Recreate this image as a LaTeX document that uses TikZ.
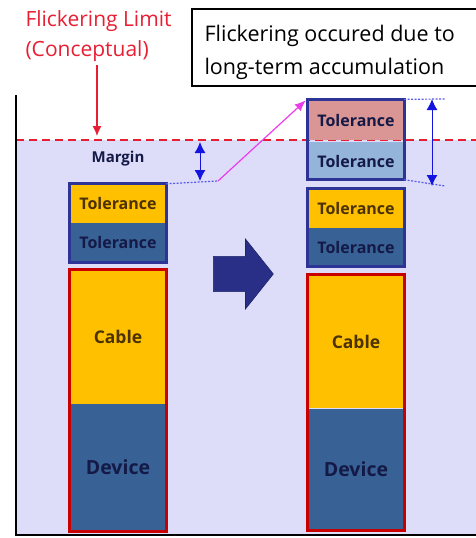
\documentclass[tikz,border=0pt]{standalone}
\usepackage{fontspec}
\setmainfont{Open Sans}
\usetikzlibrary{
    arrows.meta,
    positioning,
    shapes.arrows
}
\definecolor{bgLav}{RGB}{221,221,250}
\definecolor{tolYellow}{RGB}{255,192,0}
\definecolor{steel}{RGB}{56,98,150}
\definecolor{rosy}{RGB}{218,150,148}
\definecolor{skyTol}{RGB}{149,180,218}
\definecolor{navyEdge}{RGB}{46,52,150}
\definecolor{limitRed}{RGB}{232,30,50}
\definecolor{boxRed}{RGB}{200,0,0}
\definecolor{darkText}{RGB}{20,25,70}
\definecolor{brownText}{RGB}{75,50,0}
\definecolor{dimBlue}{RGB}{20,20,225}
\definecolor{pinkArr}{RGB}{235,60,235}

\begin{document}
\begin{tikzpicture}[x=1pt, y=-1pt,
    seg/.style={inner sep=0pt, minimum width=96pt, align=center},
    tolY/.style={seg, fill=tolYellow, minimum height=39pt, text=brownText,
                 font=\bfseries\fontsize{16}{18}\selectfont},
    tolS/.style={seg, fill=steel, minimum height=39pt, text=darkText,
                 font=\bfseries\fontsize{16}{18}\selectfont},
    tolR/.style={tolS, fill=rosy},
    tolL/.style={tolS, fill=skyTol},
    part/.style={seg, font=\bfseries\fontsize{17.5}{20}\selectfont},
    grp/.style={draw=navyEdge, line width=3pt},
    redgrp/.style={draw=boxRed, line width=3pt},
    dim/.style={{Latex[length=11pt,width=11pt]}-{Latex[length=11pt,width=11pt]},
                dimBlue, line width=1pt},
    dotl/.style={dimBlue!70, dash pattern=on 2pt off 1.5pt, line width=1.2pt},
    lab/.style={font=\fontsize{21}{30}\selectfont, align=left}
  ]
    \useasboundingbox (0,0) rectangle (476,538);
    \fill[bgLav] (16,140) rectangle (476,535);

    % limit line and axes
    \draw[limitRed, line width=2pt, dash pattern=on 8pt off 5pt] (16,140) -- (476,140);
    \draw[line width=2.5pt] (16,95) -- (16,535) -- (476,535);

    \node[lab, text=limitRed, anchor=west] (limit) at (22,36)
        {Flickering Limit\\(Conceptual)};
    \coordinate (limitHit) at (97,136);
    \draw[-{Latex[length=10pt,width=9pt]}, limitRed, line width=1.2pt]
        (limit.south -| limitHit) -- (limitHit);

    \node[draw, line width=1.5pt, anchor=north west, minimum width=290pt,
          minimum height=77pt, inner sep=0pt] (note) at (191,8) {};
    \node[lab, anchor=west, font=\fontsize{21.5}{33}\selectfont] (noteTxt) at (201,52)
        {Flickering occured due to\\long-term accumulation};

    % before
    \node[tolY] (lTolA) at (118,203.5) {Tolerance};
    \node[tolS] (lTolB) at (118,242.5) {Tolerance};
    \draw[grp] (lTolA.north west) rectangle (lTolB.south east);
    \node[part, fill=tolYellow, text=brownText, minimum height=134pt] (lCable) at (118,336.5) {Cable};
    \node[part, fill=steel, text=darkText, minimum height=128pt,
          font=\bfseries\fontsize{19.5}{22}\selectfont] (lDevice) at (118,467.5) {Device};
    \draw[redgrp] (lCable.north west) rectangle (lDevice.south east);

    \node[font=\bfseries\fontsize{15}{18}\selectfont, text=darkText] (margin) at (118,159) {Margin};
    \coordinate (mTop) at (200,142);
    \coordinate (mBot) at (200,181);
    \draw[dim] (mTop) -- (mBot);
    \coordinate (bend) at (218,181);
    \draw[dotl] (lTolA.north east) -- (bend);

    % shift arrow
    \node[single arrow, fill=navyEdge!90!black, draw=navyEdge!70!black, line width=0.6pt,
          minimum width=70pt, minimum height=60pt, inner sep=17pt,
          single arrow head extend=17pt, single arrow tip angle=103,
          anchor=tail] (shift) at (213,274) {};

    % after
    \node[tolR] (rTolA) at (356,120) {Tolerance};
    \node[tolL] (rTolB) at (356,161) {Tolerance};
    \draw[grp] ([yshift=1pt]rTolA.north west) rectangle ([yshift=1pt]rTolB.south east);
    \node[tolY] (rTolC) at (356,208) {Tolerance};
    \node[tolS] (rTolD) at (356,247) {Tolerance};
    \draw[grp] (rTolC.north west) rectangle (rTolD.south east);
    \node[part, fill=tolYellow, text=brownText, minimum height=133pt] (rCable) at (356,341.5) {Cable};
    \node[part, fill=steel, text=darkText, minimum height=122pt,
          font=\bfseries\fontsize{19.5}{22}\selectfont] (rDevice) at (356,469.5) {Device};
    \draw[redgrp] (rCable.north west) rectangle (rDevice.south east);

    \draw[-{Latex[length=11pt,width=9pt]}, pinkArr, line width=1.2pt]
        (bend) -- ([xshift=-2pt]rTolA.north west);
    \coordinate (aTop) at (445,99);
    \coordinate (aBot) at (445,186);
    \draw[dotl] ([yshift=1pt]rTolA.north east) -- (aTop);
    \draw[dotl] ([yshift=1pt]rTolB.south east) -- (aBot);
    \draw[dim] ([xshift=-13pt]aTop) -- ([xshift=-13pt]aBot);
  \end{tikzpicture}
\end{document}
